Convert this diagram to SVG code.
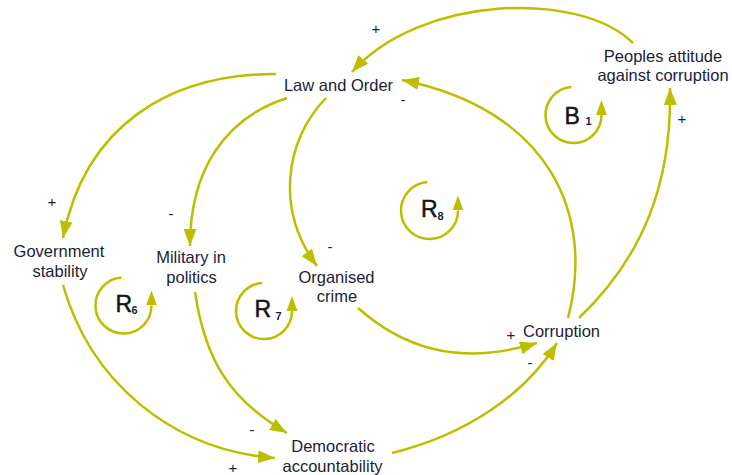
<svg xmlns="http://www.w3.org/2000/svg" width="732" height="475" viewBox="0 0 732 475">
  <defs>
    <marker id="arrow" markerUnits="userSpaceOnUse" markerWidth="18" markerHeight="14" refX="17" refY="6.5" orient="auto">
      <path d="M0,0 L17,6.5 L0,13 z" fill="#bebe00"/>
    </marker>
    <marker id="loopArrow" markerUnits="userSpaceOnUse" markerWidth="16" markerHeight="12" refX="0" refY="5.5" orient="auto">
      <path d="M0,0 L15,5.5 L0,11 z" fill="#bebe00"/>
    </marker>
  </defs>
  <style>
    .lbl { font-family: "Liberation Sans", Arial, sans-serif; font-size: 16.5px; fill: #1c1c36; text-anchor: middle; }
    .sign { font-family: "Liberation Sans", Arial, sans-serif; font-size: 15px; fill: #1c1c36; text-anchor: middle; }
    .edge { fill: none; stroke: #bebe00; stroke-width: 2.5; marker-end: url(#arrow); }
    .loop { fill: none; stroke: #bebe00; stroke-width: 2.5; marker-end: url(#loopArrow); }
    .big { font-family: "Liberation Sans", Arial, sans-serif; font-size: 23px; fill: #151515; stroke: #151515; stroke-width: 0.5; }
    .sub { font-family: "Liberation Sans", Arial, sans-serif; font-size: 11px; font-weight: bold; fill: #1c1c36; }
  </style>
  <rect width="732" height="475" fill="#ffffff"/>

  <g id="connectors">
    <path class="edge" d="M633,43 C580,-10 420,-5 352,72"/>
    <path class="edge" d="M276,74 C170,74 85,125 63,238"/>
    <path class="edge" d="M287,98 C225,118 190,170 190,246"/>
    <path class="edge" d="M326,98 C285,140 275,210 317,266"/>
    <path class="edge" d="M568,318 C595,215 550,110 402,80"/>
    <path class="edge" d="M579,318 C645,255 672,180 670,88"/>
    <path class="edge" d="M358,308 C400,345 455,368 537,343"/>
    <path class="edge" d="M392,453 C465,435 525,395 557,343"/>
    <path class="edge" d="M63,285 C90,380 170,450 275,458"/>
    <path class="edge" d="M195,292 C205,360 230,400 287,433"/>
  </g>

  <g id="signs">
    <text class="sign" x="376" y="34">+</text>
    <text class="sign" x="52" y="207">+</text>
    <text class="sign" x="171" y="219">-</text>
    <text class="sign" x="403" y="105">-</text>
    <text class="sign" x="682" y="124">+</text>
    <text class="sign" x="330" y="252">-</text>
    <text class="sign" x="511" y="340">+</text>
    <text class="sign" x="530" y="368">-</text>
    <text class="sign" x="252" y="435">-</text>
    <text class="sign" x="233" y="473">+</text>
  </g>

  <g id="law-and-order">
    <text class="lbl" x="338.5" y="90.5">Law and Order</text>
  </g>
  <g id="peoples-attitude">
    <text class="lbl" x="663" y="61.5">Peoples attitude</text>
    <text class="lbl" x="663" y="81">against corruption</text>
  </g>
  <g id="government-stability">
    <text class="lbl" x="59" y="256.5">Government</text>
    <text class="lbl" x="60" y="277">stability</text>
  </g>
  <g id="military-in-politics">
    <text class="lbl" x="191" y="263">Military in</text>
    <text class="lbl" x="191.5" y="283">politics</text>
  </g>
  <g id="organised-crime">
    <text class="lbl" x="336.5" y="283">Organised</text>
    <text class="lbl" x="337" y="302">crime</text>
  </g>
  <g id="democratic-accountability">
    <text class="lbl" x="333" y="451.5">Democratic</text>
    <text class="lbl" x="332.5" y="472">accountability</text>
  </g>
  <g id="corruption">
    <text class="lbl" x="561.5" y="336.5">Corruption</text>
  </g>

  <g id="loop-B1">
    <path class="loop" d="M571.5,87.1 A28,28 0 1 0 601.5,115"/>
    <text class="big" x="564.5" y="124">B</text>
    <text class="sub" x="585.5" y="125">1</text>
  </g>
  <g id="loop-R8">
    <path class="loop" d="M427.5,182.1 A28.5,28.5 0 1 0 458,210.5"/>
    <text class="big" x="421" y="217">R</text>
    <text class="sub" x="437.5" y="220">8</text>
  </g>
  <g id="loop-R6">
    <path class="loop" d="M121.5,277.6 A28,28 0 1 0 151.5,305.5"/>
    <text class="big" x="115.5" y="312">R</text>
    <text class="sub" x="131.5" y="314">6</text>
  </g>
  <g id="loop-R7">
    <path class="loop" d="M262,283.1 A28,28 0 1 0 292,311"/>
    <text class="big" x="254.5" y="317">R</text>
    <text class="sub" x="275.5" y="320">7</text>
  </g>
</svg>
